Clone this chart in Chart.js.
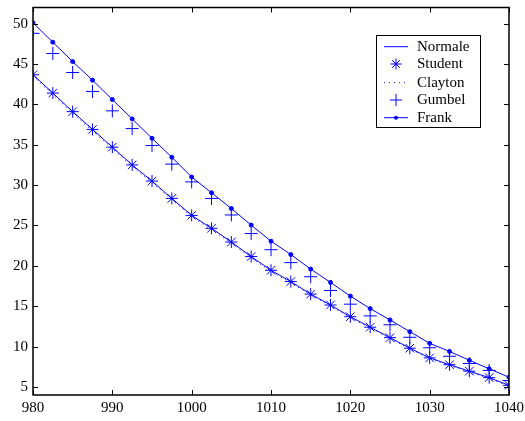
<!DOCTYPE html>
<html><head><meta charset="utf-8">
<script src="https://cdn.jsdelivr.net/npm/chart.js@4/dist/chart.umd.min.js"></script>
<style>html,body{margin:0;padding:0;background:#fff}</style>
</head><body>
<canvas id="c" width="525" height="421" style="width:525px;height:421px;display:block"></canvas>
<script>
const xValues = [980,982.5,985,987.5,990,992.5,995,997.5,1000,1002.5,1005,1007.5,1010,1012.5,1015,1017.5,1020,1022.5,1025,1027.5,1030,1032.5,1035,1037.5,1040];
const normale = [43.67,41.4,39.1,36.9,34.7,32.5,30.5,28.35,26.25,24.65,22.95,21.15,19.45,18.05,16.5,15.15,13.7,12.4,11.1,9.8,8.6,7.75,6.95,6.15,5.2];
const student = [43.67,41.4,39.1,36.9,34.7,32.5,30.5,28.35,26.25,24.65,22.95,21.15,19.45,18.05,16.5,15.15,13.7,12.4,11.1,9.8,8.6,7.75,6.95,6.15,5.2];
const clayton = [43.5,41.2,38.9,36.7,34.5,32.3,30.3,28.2,26.1,24.5,22.8,21.0,19.3,17.9,16.4,15.0,13.6,12.3,11.0,9.7,8.5,7.65,6.85,6.05,5.1];
const gumbel = [48.8,46.3,43.95,41.6,39.2,37.0,34.9,32.6,30.4,28.35,26.3,24.0,22.0,20.4,18.65,16.95,15.25,13.8,12.7,11.15,9.85,8.8,7.9,7.05,5.8];
const frank = [50.1,47.7,45.3,43.0,40.6,38.2,35.8,33.45,31.0,29.05,27.1,25.05,23.05,21.4,19.6,17.95,16.25,14.7,13.3,11.85,10.4,9.4,8.3,7.25,6.2];
const xTicks = [980,990,1000,1010,1020,1030,1040];
const yTicks = [5,10,15,20,25,30,35,40,45,50];
const seriesNames = ['Normale','Student','Clayton','Gumbel','Frank'];

const BLUE = '#0000ff';
const FONT = '"Liberation Serif", "Times New Roman", serif';
const pts = arr => xValues.map((x,i)=>({x:x,y:arr[i]}));

const boxPlugin = {
  id:'box',
  afterDraw(chart){
    const ctx = chart.ctx, a = chart.chartArea;
    const xs = chart.scales.x, ys = chart.scales.y;
    ctx.save();
    ctx.strokeStyle = '#000';
    ctx.lineWidth = 1;
    ctx.beginPath();
    xTicks.forEach(v=>{
      const px = Math.round(xs.getPixelForValue(v))+0.5;
      ctx.moveTo(px,a.bottom); ctx.lineTo(px,a.bottom-5);
      ctx.moveTo(px,a.top); ctx.lineTo(px,a.top+5);
    });
    yTicks.forEach(v=>{
      const py = Math.round(ys.getPixelForValue(v))+0.5;
      ctx.moveTo(a.left,py); ctx.lineTo(a.left+5,py);
      ctx.moveTo(a.right,py); ctx.lineTo(a.right-5,py);
    });
    ctx.stroke();
    ctx.lineWidth = 1.5;
    ctx.strokeRect(a.left, a.top, a.right-a.left, a.bottom-a.top);

    const lx = 376, ly = 35, lw = 104, lh = 92;
    ctx.fillStyle = '#fff';
    ctx.fillRect(lx,ly,lw,lh);
    ctx.lineWidth = 1;
    ctx.strokeStyle = '#000';
    ctx.strokeRect(lx+0.5,ly+0.5,lw,lh);
    const rows = [46.7,64,82.7,100,117.7];
    const x0 = 384, x1 = 408, xm = 396;
    rows.forEach((y,i)=>{
      ctx.save();
      ctx.strokeStyle = BLUE; ctx.fillStyle = BLUE; ctx.lineWidth = 1;
      if (i===0){ ctx.beginPath(); ctx.moveTo(x0,y); ctx.lineTo(x1,y); ctx.stroke(); }
      if (i===1){ const r=5.5; ctx.beginPath();
        ctx.moveTo(xm-r,y); ctx.lineTo(xm+r,y); ctx.moveTo(xm,y-r); ctx.lineTo(xm,y+r);
        const d=r*0.707; ctx.moveTo(xm-d,y-d); ctx.lineTo(xm+d,y+d); ctx.moveTo(xm-d,y+d); ctx.lineTo(xm+d,y-d); ctx.stroke(); }
      if (i===2){ ctx.setLineDash([1,4]); ctx.beginPath(); ctx.moveTo(x0,y); ctx.lineTo(x1,y); ctx.stroke(); }
      if (i===3){ const r=6; ctx.beginPath(); ctx.moveTo(xm-r,y); ctx.lineTo(xm+r,y); ctx.moveTo(xm,y-r); ctx.lineTo(xm,y+r); ctx.stroke(); }
      if (i===4){ ctx.beginPath(); ctx.moveTo(x0,y); ctx.lineTo(x1,y); ctx.stroke(); ctx.beginPath(); ctx.arc(xm,y,2,0,Math.PI*2); ctx.fill(); }
      ctx.restore();
      ctx.fillStyle = '#000';
      ctx.font = '15px ' + FONT;
      ctx.textBaseline = 'middle';
      ctx.textAlign = 'left';
      ctx.fillText(seriesNames[i], 417, y);
    });
    ctx.restore();
  }
};

const zeroPad = s => { s.paddingTop = 0; s.paddingBottom = 0; s.paddingLeft = 0; s.paddingRight = 0; };

new Chart(document.getElementById('c'), {
  type:'scatter',
  data:{ datasets:[
    {label:'Normale', data:pts(normale), showLine:true, borderColor:BLUE, borderWidth:1, pointRadius:0, tension:0},
    {label:'Clayton', data:pts(clayton), showLine:true, borderColor:BLUE, borderWidth:1, borderDash:[1,4], pointRadius:0},
    {label:'Gumbel', data:pts(gumbel), showLine:false, borderColor:BLUE, backgroundColor:BLUE, pointStyle:'cross', pointRadius:6.5, borderWidth:1},
    {label:'Student', data:pts(student), showLine:false, borderColor:BLUE, backgroundColor:BLUE, pointStyle:'star', pointRadius:6, borderWidth:1},
    {label:'Frank', data:pts(frank), showLine:true, borderColor:BLUE, backgroundColor:BLUE, pointStyle:'circle', pointRadius:2, borderWidth:1}
  ]},
  options:{
    responsive:false, animation:false, devicePixelRatio:1,
    layout:{padding:{top:6,right:16,left:0,bottom:0}},
    plugins:{legend:{display:false}, tooltip:{enabled:false}},
    scales:{
      x:{type:'linear', min:980, max:1040,
        afterBuildTicks:s=>{s.ticks = xTicks.map(v=>({value:v}));},
        afterFit:s=>{s.height = 26; zeroPad(s);},
        grid:{display:false, drawTicks:false}, border:{display:false},
        ticks:{color:'#000', font:{family:FONT,size:15}, padding:4, maxRotation:0, autoSkip:false, callback:v=>String(v)}},
      y:{type:'linear', min:4, max:52,
        afterBuildTicks:s=>{s.ticks = yTicks.map(v=>({value:v}));},
        afterFit:s=>{s.width = 33; zeroPad(s);},
        grid:{display:false, drawTicks:false}, border:{display:false},
        ticks:{color:'#000', font:{family:FONT,size:15}, padding:5, autoSkip:false, callback:v=>String(v)}}
    }
  },
  plugins:[boxPlugin]
});
</script>
</body></html>
